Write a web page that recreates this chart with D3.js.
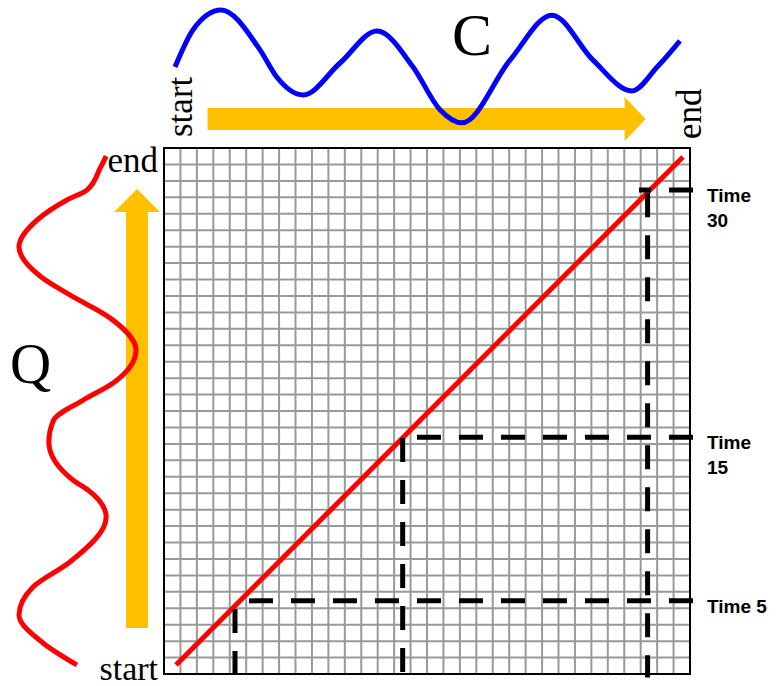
<!DOCTYPE html>
<html>
<head>
<meta charset="utf-8">
<script src="https://cdn.jsdelivr.net/npm/d3@7"></script>
<style>
  html, body { margin: 0; padding: 0; background: #fff; }
  svg { display: block; }
</style>
</head>
<body>
<svg id="chart" width="776" height="686"></svg>
<script>
// ---------------- DATA ----------------
const gridCells = 32;                       // 32 x 32 cost matrix
// C signal (top, horizontal): [position along C in cells, amplitude]
const cPos = [0.67, 1.76, 3.47, 5.84, 6.87, 8.46, 10.71, 12.96, 15.15, 16.79, 18.13, 21.05, 23.60, 26.10, 28.47, 30.00, 31.39];
const cAmp = [0.00, 0.65, 1.00, 0.30, -0.18, -0.49, 0.07, 0.63, 0.00, -0.75, -0.98, 0.12, 0.91, 0.12, -0.42, 0.00, 0.46];
// Q signal (left, vertical): [position along Q in cells, amplitude]
const qPos = [0.55, 1.89, 3.59, 5.29, 6.81, 9.55, 11.19, 11.80, 14.11, 15.44, 16.65, 17.70, 19.71, 21.65, 23.06, 24.15, 25.98, 27.62, 28.84, 29.44, 30.80, 31.51];
const qAmp = [-0.01, -0.59, -1.00, -0.76, -0.13, 0.49, 0.18, -0.08, -0.49, -0.41, 0.09, 0.61, 1.00, 0.56, -0.13, -0.62, -1.00, -0.69, -0.18, 0.16, 0.39, 0.49];
// warping path (diagonal), in cells [c, q]
const warpC = [0.73, 31.57];
const warpQ = [0.55, 31.45];
// highlighted time points
const timeLabels = [["Time 5"], ["Time", "15"], ["Time", "30"]];
const matchC = [4.32, 14.52, 29.42];        // column of each match (vertical dashed line)
const matchQ = [4.45, 14.40, 29.45];        // row of each match (horizontal dashed line)
const hStartC = [4.85, 14.52, 28.90];       // where horizontal dashes begin
const vStartQ = [3.95, 14.35, 29.25];       // where vertical dashes begin

// ---------------- LAYOUT ----------------
const svg = d3.select("#chart");
const x = d3.scaleLinear().domain([0, gridCells]).range([164, 690]);
const y = d3.scaleLinear().domain([0, gridCells]).range([674, 148]);
const cY = d3.scaleLinear().domain([-1, 1]).range([124, 10]);
const qX = d3.scaleLinear().domain([-1, 1]).range([19, 136]);
const gold = "#FFC000";
const serif = "'Liberation Serif', 'Times New Roman', serif";
const sans = "'Liberation Sans', Arial, sans-serif";

// ---------------- GRID ----------------
const ticks = d3.range(0, gridCells + 1);
const g = svg.append("g");
g.selectAll("line.v").data(ticks.slice(1, -1)).join("line")
  .attr("x1", d => x(d)).attr("x2", d => x(d))
  .attr("y1", y(0)).attr("y2", y(gridCells))
  .attr("stroke", "#999").attr("stroke-width", 2);
g.selectAll("line.h").data(ticks.slice(1, -1)).join("line")
  .attr("y1", d => y(d)).attr("y2", d => y(d))
  .attr("x1", x(0)).attr("x2", x(gridCells))
  .attr("stroke", "#999").attr("stroke-width", 2);
g.append("rect")
  .attr("x", x(0)).attr("y", y(gridCells))
  .attr("width", x(gridCells) - x(0)).attr("height", y(0) - y(gridCells))
  .attr("fill", "none").attr("stroke", "#000").attr("stroke-width", 2);

// ---------------- ARROWS ----------------
// horizontal arrow above grid (C direction)
{
  const x0 = x(2.65), tip = x(29.3), headLen = 21, cy = 119, hw = 11, hh = 22;
  svg.append("path")
    .attr("d", `M${x0},${cy - hw}L${tip - headLen},${cy - hw}L${tip - headLen},${cy - hh}L${tip},${cy}L${tip - headLen},${cy + hh}L${tip - headLen},${cy + hw}L${x0},${cy + hw}Z`)
    .attr("fill", gold);
}
// vertical arrow left of grid (Q direction)
{
  const y0 = y(2.8), tip = y(29.5), headLen = 23, cx = 137, hw = 11, hh = 23;
  svg.append("path")
    .attr("d", `M${cx - hw},${y0}L${cx - hw},${tip + headLen}L${cx - hh},${tip + headLen}L${cx},${tip}L${cx + hh},${tip + headLen}L${cx + hw},${tip + headLen}L${cx + hw},${y0}Z`)
    .attr("fill", gold);
}

// ---------------- SIGNALS ----------------
const cLine = d3.line().x((d, i) => x(cPos[i])).y((d, i) => cY(cAmp[i])).curve(d3.curveMonotoneX);
svg.append("path").attr("d", cLine(cPos))
  .attr("fill", "none").attr("stroke", "#0000FF").attr("stroke-width", 5)
  .attr("stroke-linecap", "butt");

const qLine = d3.line().x((d, i) => qX(qAmp[i])).y((d, i) => y(qPos[i])).curve(d3.curveMonotoneY);
svg.append("path").attr("d", qLine(qPos))
  .attr("fill", "none").attr("stroke", "#FF0000").attr("stroke-width", 5)
  .attr("stroke-linecap", "butt");

// ---------------- WARPING PATH ----------------
svg.append("line")
  .attr("x1", x(warpC[0])).attr("y1", y(warpQ[0]))
  .attr("x2", x(warpC[1])).attr("y2", y(warpQ[1]))
  .attr("stroke", "#FF0000").attr("stroke-width", 5);

// ---------------- DASHED MATCH LINES ----------------
const rightEnd = 32.18, bottomEnd = -0.22;
timeLabels.forEach((lab, i) => {
  // horizontal: drawn from right edge leftward
  svg.append("line")
    .attr("x1", x(rightEnd)).attr("x2", x(hStartC[i]))
    .attr("y1", y(matchQ[i])).attr("y2", y(matchQ[i]))
    .attr("stroke", "#000").attr("stroke-width", 5).attr("stroke-dasharray", "24,18");
  // vertical: drawn from match downward
  svg.append("line")
    .attr("x1", x(matchC[i])).attr("x2", x(matchC[i]))
    .attr("y1", y(vStartQ[i])).attr("y2", y(bottomEnd))
    .attr("stroke", "#000").attr("stroke-width", 5).attr("stroke-dasharray", "24,18");
  // label
  const t = svg.append("text")
    .attr("x", 707).attr("y", y(matchQ[i]) + 12)
    .attr("font-family", sans).attr("font-weight", "bold").attr("font-size", 19)
    .attr("fill", "#000");
  lab.forEach((s, k) => {
    t.append("tspan").attr("x", 707).attr("dy", k === 0 ? 0 : 25).text(s);
  });
});

// ---------------- TEXT ----------------
svg.append("text").attr("x", 452).attr("y", 55)
  .attr("font-family", serif).attr("font-size", 60).text("C");
svg.append("text").attr("x", 10).attr("y", 383)
  .attr("font-family", serif).attr("font-size", 57).text("Q");
svg.append("text").attr("x", 158).attr("y", 172).attr("text-anchor", "end")
  .attr("font-family", serif).attr("font-size", 35).text("end");
svg.append("text").attr("x", 158).attr("y", 680).attr("text-anchor", "end")
  .attr("font-family", serif).attr("font-size", 34).text("start");
svg.append("text").attr("transform", "translate(192,137) rotate(-90)")
  .attr("font-family", serif).attr("font-size", 35).text("start");
svg.append("text").attr("transform", "translate(701,139) rotate(-90)")
  .attr("font-family", serif).attr("font-size", 35).text("end");
</script>
</body>
</html>
